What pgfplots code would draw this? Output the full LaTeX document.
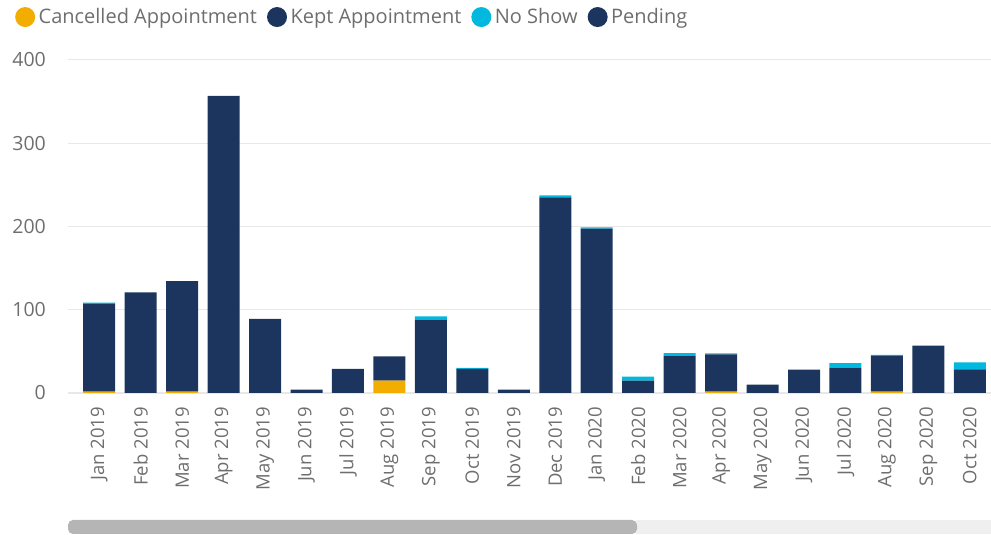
\documentclass[border=0pt]{standalone}
\usepackage{pgfplots}
\pgfplotsset{compat=1.18}
\usepackage{fontspec}
\setmainfont{Open Sans}
\definecolor{kept}{HTML}{1C355E}
\definecolor{noshow}{HTML}{01B8DE}
\definecolor{cancel}{HTML}{F2AD00}
\definecolor{txt}{HTML}{6E6E6E}
\definecolor{grid}{HTML}{E8E8E8}
\definecolor{thumb}{HTML}{B5B5B5}
\definecolor{track}{HTML}{EFEFEF}
\begin{document}
\begin{tikzpicture}
\useasboundingbox (0,0) rectangle (991pt,535pt);
% scrollbar
\fill[track] (636pt,1pt) rectangle (991pt,15pt);
\fill[thumb, rounded corners=5pt] (68pt,1pt) rectangle (637pt,15pt);
\begin{axis}[
  at={(68pt,142pt)}, anchor=south west,
  scale only axis, width=923pt, height=333pt,
  ybar stacked, bar width=32pt,
  xmin=-0.753, xmax=21.51,
  ymin=0, ymax=400,
  ytick={0,100,200,300,400},
  xtick={0,...,21},
  xticklabels={Jan 2019,Feb 2019,Mar 2019,Apr 2019,May 2019,Jun 2019,Jul 2019,Aug 2019,Sep 2019,Oct 2019,Nov 2019,Dec 2019,Jan 2020,Feb 2020,Mar 2020,Apr 2020,May 2020,Jun 2020,Jul 2020,Aug 2020,Sep 2020,Oct 2020},
  axis x line*=bottom, axis y line*=left,
  x axis line style={draw=grid, line width=1.5pt},
  y axis line style={draw=none},
  major tick length=0pt,
  ymajorgrids, grid style={draw=grid, line width=1pt},
  /pgf/number format/assume math mode=true,
  ticklabel style={text=txt, inner sep=0pt},
  yticklabel style={font=\fontsize{19.5}{20}\selectfont},
  xticklabel style={font=\fontsize{18.5}{19}\selectfont, rotate=90, anchor=east},
  xticklabel shift=14pt,
  yticklabel shift=22pt,
  legend columns=4,
  legend style={at={(axis description cs:-0.0607,1.129)}, anchor=west, draw=none, fill=none,
    font=\fontsize{20}{22}\selectfont, text=txt,
    nodes={inner sep=1pt},
    column sep=2.5pt,
    /tikz/every even column/.append style={column sep=9pt}},
  legend image code/.code={\fill[#1] (0pt,0pt) circle (10pt);},
  legend cell align=left,
]
\addplot+[fill=cancel, draw=none] coordinates {
(0,1.5) (1,0) (2,1.5) (3,0) (4,0) (5,0) (6,0) (7,15) (8,0) (9,0) (10,0)
(11,0) (12,0) (13,0) (14,0) (15,1.5) (16,0) (17,0) (18,0) (19,1.5) (20,0) (21,0)};
\addplot+[fill=kept, draw=none] coordinates {
(0,105.5) (1,121) (2,133) (3,357) (4,89) (5,4) (6,29) (7,29) (8,88) (9,29) (10,4)
(11,235) (12,197.5) (13,15) (14,45) (15,45) (16,10) (17,28) (18,30.5) (19,43) (20,57) (21,28.5)};
\addplot+[fill=noshow, draw=none] coordinates {
(0,1.5) (1,0) (2,0) (3,0) (4,0) (5,0) (6,0) (7,0) (8,4) (9,1.2) (10,0)
(11,2.5) (12,1.5) (13,4.8) (14,2.8) (15,1.2) (16,0) (17,0) (18,5.3) (19,1.3) (20,0) (21,8.4)};
\addplot+[fill=kept, draw=none] coordinates {
(0,0) (1,0) (2,0) (3,0) (4,0) (5,0) (6,0) (7,0) (8,0) (9,0) (10,0)
(11,0) (12,0) (13,0) (14,0) (15,0) (16,0) (17,0) (18,0) (19,0) (20,0) (21,0)};
\legend{Cancelled Appointment, Kept Appointment, No Show, Pending}
\end{axis}
\end{tikzpicture}
\end{document}
